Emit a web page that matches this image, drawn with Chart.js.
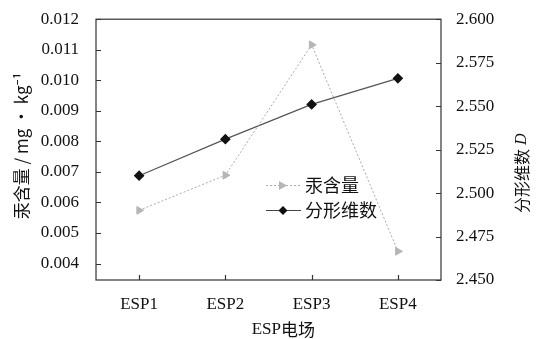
<!DOCTYPE html>
<html>
<head>
<meta charset="utf-8">
<script src="https://cdn.jsdelivr.net/npm/chart.js@4/dist/chart.umd.min.js"></script>
<style>
  html, body { margin: 0; padding: 0; background: #fff; }
  #myChart { display: block; }
</style>
</head>
<body>
<canvas id="myChart" width="541" height="339"></canvas>
<script>
const fields = ['ESP1', 'ESP2', 'ESP3', 'ESP4'];
const mercury = [0.00574, 0.00689, 0.01116, 0.00440];
const fractal = [2.510, 2.531, 2.551, 2.566];
const leftTicks = [0.004, 0.005, 0.006, 0.007, 0.008, 0.009, 0.010, 0.011, 0.012];
const rightTicks = [2.450, 2.475, 2.500, 2.525, 2.550, 2.575, 2.600];

const serif = '"Liberation Serif", "DejaVu Serif", serif';
const cjk = '"Noto Sans CJK SC", "Noto Sans", sans-serif';

// frame, inward ticks, axis titles, legend
const decor = {
	id: 'decor',
	afterDraw(chart) {
		const c = chart.ctx;
		const a = chart.chartArea;
		const x = chart.scales.x, yl = chart.scales.yl, yr = chart.scales.yr;
		c.save();
		c.strokeStyle = '#333';
		c.lineWidth = 1.2;
		c.strokeRect(a.left, a.top, a.right - a.left, a.bottom - a.top);
		c.beginPath();
		leftTicks.forEach(v => {
			const p = Math.round(yl.getPixelForValue(v)) + 0.5;
			c.moveTo(a.left, p); c.lineTo(a.left + 5, p);
		});
		rightTicks.forEach(v => {
			const p = Math.round(yr.getPixelForValue(v)) + 0.5;
			c.moveTo(a.right, p); c.lineTo(a.right - 5, p);
		});
		fields.forEach((f, i) => {
			const p = Math.round(x.getPixelForValue(i)) + 0.5;
			c.moveTo(p, a.bottom); c.lineTo(p, a.bottom - 5);
		});
		c.stroke();

		c.fillStyle = '#111';
		c.textBaseline = 'middle';
		c.font = '17px ' + serif;
		c.textAlign = 'right';
		c.fillText('ESP', 281, 330);
		c.font = '17px ' + cjk;
		c.textAlign = 'left';
		c.fillText('电场', 281, 330);
		c.textAlign = 'center';

		c.save();
		c.translate(22, 146);
		c.rotate(-Math.PI / 2);
		c.font = '17px ' + cjk;
		c.fillText('汞含量 / mg · kg⁻¹', 0, 0);
		c.restore();

		c.save();
		c.translate(522, 153);
		c.rotate(-Math.PI / 2);
		c.font = '16px ' + cjk;
		c.textAlign = 'right';
		c.fillText('分形维数', 4, 0);
		c.font = 'italic 16px ' + serif;
		c.textAlign = 'left';
		c.fillText(' D', 4, 0);
		c.restore();

		// legend
		c.lineWidth = 1;
		c.strokeStyle = '#aaa';
		c.setLineDash([2, 2]);
		c.beginPath(); c.moveTo(266, 185.5); c.lineTo(301, 185.5); c.stroke();
		c.setLineDash([]);
		c.fillStyle = '#b5b5b5';
		c.beginPath(); c.moveTo(287, 185.5); c.lineTo(279, 181); c.lineTo(279, 190); c.closePath(); c.fill();
		c.strokeStyle = '#444';
		c.beginPath(); c.moveTo(266, 210.5); c.lineTo(301, 210.5); c.stroke();
		c.fillStyle = '#111';
		c.beginPath(); c.moveTo(283, 206); c.lineTo(287.5, 210.5); c.lineTo(283, 215); c.lineTo(278.5, 210.5); c.closePath(); c.fill();
		c.fillStyle = '#111';
		c.textAlign = 'left';
		c.font = '18px ' + cjk;
		c.fillText('汞含量', 305, 185);
		c.fillText('分形维数', 305, 210);
		c.restore();
	}
};

const ctx = document.getElementById('myChart').getContext('2d');
let myChart = new Chart(ctx, {
	type: 'line',
	data: {
		labels: fields,
		datasets: [
			{
				label: '汞含量',
				data: mercury,
				yAxisID: 'yl',
				borderColor: '#aaa',
				borderWidth: 1,
				borderDash: [2, 2],
				pointStyle: 'triangle',
				rotation: 90,
				pointRadius: 4.5,
				pointBackgroundColor: '#b5b5b5',
				pointBorderColor: '#b5b5b5',
				tension: 0
			},
			{
				label: '分形维数',
				data: fractal,
				yAxisID: 'yr',
				borderColor: '#555',
				borderWidth: 1.2,
				pointStyle: 'rectRot',
				pointRadius: 4.5,
				pointBackgroundColor: '#111',
				pointBorderColor: '#111',
				tension: 0
			}
		]
	},
	options: {
		responsive: false,
		animation: false,
		layout: { padding: { top: 15, left: 0, right: 0, bottom: 0 } },
		plugins: { legend: { display: false }, tooltip: { enabled: false } },
		scales: {
			x: {
				offset: true,
				grid: { display: false },
				border: { display: false },
				ticks: { color: '#111', padding: 6, font: { family: serif, size: 17 } },
				afterFit: s => { s.height = 59; }
			},
			yl: {
				position: 'left',
				min: 0.00346,
				max: 0.012,
				grid: { display: false },
				border: { display: false },
				afterBuildTicks: s => { s.ticks = leftTicks.map(v => ({ value: v })); },
				ticks: { color: '#111', padding: 9, font: { family: serif, size: 17 }, callback: v => v.toFixed(3) },
				afterFit: s => { s.width = 96; }
			},
			yr: {
				position: 'right',
				min: 2.45,
				max: 2.6,
				grid: { display: false },
				border: { display: false },
				afterBuildTicks: s => { s.ticks = rightTicks.map(v => ({ value: v })); },
				ticks: { color: '#111', padding: 7, font: { family: serif, size: 17 }, callback: v => v.toFixed(3) },
				afterFit: s => { s.width = 100; }
			}
		}
	},
	plugins: [decor]
});
</script>
</body>
</html>
